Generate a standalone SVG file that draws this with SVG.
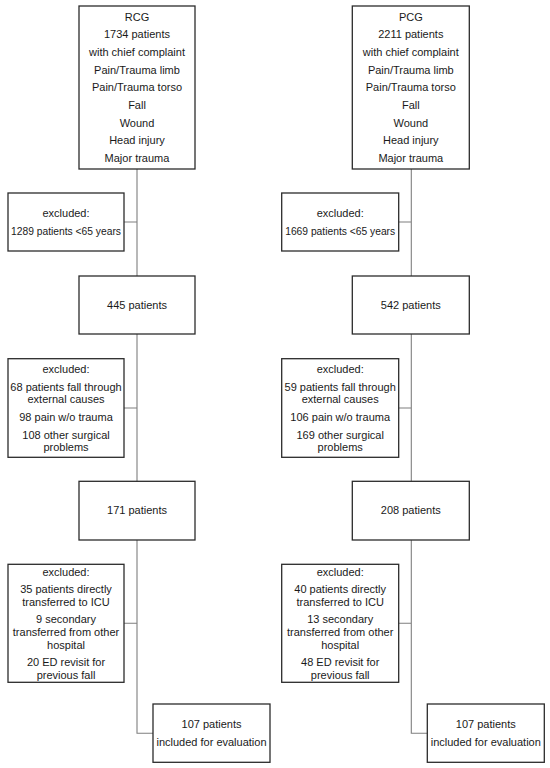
<svg xmlns="http://www.w3.org/2000/svg" width="550" height="768" viewBox="0 0 550 768">
<style>
.box{fill:#fff;stroke:#2b2b2b;stroke-width:1.3}
.ln{fill:none;stroke:#7f7f7f;stroke-width:1.1}
text{font-family:"Liberation Sans",Arial,sans-serif;font-size:11px;fill:#1a1a1a;text-anchor:middle}
</style>
<rect width="550" height="768" fill="#fff"/>
<g id="connectors">
<path class="ln" d="M137,169V733.3H153M137,222H124M137,408H124M137,623.3H124"/>
<path class="ln" d="M411.3,169V733.3H427.3M411.3,222H398.7M411.3,408H398.7M411.3,623.3H398.7"/>
</g>
<g id="rcg">
<rect class="box" x="79" y="6" width="116" height="163"/>
<text x="137" y="20.7">RCG</text>
<text x="137" y="38.3">1734 patients</text>
<text x="137" y="56.3">with chief complaint</text>
<text x="137" y="74">Pain/Trauma limb</text>
<text x="137" y="91.3">Pain/Trauma torso</text>
<text x="137" y="109">Fall</text>
<text x="137" y="126.7">Wound</text>
<text x="137" y="144.3">Head injury</text>
<text x="137" y="162">Major trauma</text>
</g>
<g id="pcg">
<rect class="box" x="352.3" y="6" width="117" height="163"/>
<text x="410.8" y="20.7">PCG</text>
<text x="410.8" y="38.3">2211 patients</text>
<text x="410.8" y="56.3">with chief complaint</text>
<text x="410.8" y="74">Pain/Trauma limb</text>
<text x="410.8" y="91.3">Pain/Trauma torso</text>
<text x="410.8" y="109">Fall</text>
<text x="410.8" y="126.7">Wound</text>
<text x="410.8" y="144.3">Head injury</text>
<text x="410.8" y="162">Major trauma</text>
</g>
<g id="rcg-excl1">
<rect class="box" x="8" y="193" width="116" height="58"/>
<text x="66" y="217.3">excluded:</text>
<text x="66" y="234.7" textLength="110" lengthAdjust="spacingAndGlyphs">1289 patients &lt;65 years</text>
</g>
<g id="pcg-excl1">
<rect class="box" x="281.7" y="193" width="117" height="58"/>
<text x="340.2" y="217.3">excluded:</text>
<text x="340.2" y="234.7" textLength="110" lengthAdjust="spacingAndGlyphs">1669 patients &lt;65 years</text>
</g>
<g id="rcg-445">
<rect class="box" x="79" y="276" width="116" height="58"/>
<text x="137" y="308.7">445 patients</text>
</g>
<g id="pcg-542">
<rect class="box" x="352.3" y="276" width="117" height="58"/>
<text x="410.8" y="308.7">542 patients</text>
</g>
<g id="rcg-excl2">
<rect class="box" x="8" y="358.7" width="116" height="98.6"/>
<text x="66" y="373">excluded:</text>
<text x="66" y="390.7">68 patients fall through</text>
<text x="66" y="402.7">external causes</text>
<text x="66" y="420.7">98 pain w/o trauma</text>
<text x="66" y="438.7">108 other surgical</text>
<text x="66" y="450.7">problems</text>
</g>
<g id="pcg-excl2">
<rect class="box" x="281.7" y="358.7" width="117" height="98.6"/>
<text x="340.2" y="373">excluded:</text>
<text x="340.2" y="390.7">59 patients fall through</text>
<text x="340.2" y="402.7">external causes</text>
<text x="340.2" y="420.7">106 pain w/o trauma</text>
<text x="340.2" y="438.7">169 other surgical</text>
<text x="340.2" y="450.7">problems</text>
</g>
<g id="rcg-171">
<rect class="box" x="79" y="481.3" width="116" height="58.7"/>
<text x="137" y="514">171 patients</text>
</g>
<g id="pcg-208">
<rect class="box" x="352.3" y="481.3" width="117" height="58.7"/>
<text x="410.8" y="514">208 patients</text>
</g>
<g id="rcg-excl3">
<rect class="box" x="8" y="564.3" width="116" height="118"/>
<text x="66" y="575.7">excluded:</text>
<text x="66" y="593.3">35 patients directly</text>
<text x="66" y="605.7">transferred to ICU</text>
<text x="66" y="623">9 secondary</text>
<text x="66" y="636">transferred from other</text>
<text x="66" y="649">hospital</text>
<text x="66" y="666.3">20 ED revisit for</text>
<text x="66" y="678.7">previous fall</text>
</g>
<g id="pcg-excl3">
<rect class="box" x="281.7" y="564.3" width="117" height="118"/>
<text x="340.2" y="575.7">excluded:</text>
<text x="340.2" y="593.3">40 patients directly</text>
<text x="340.2" y="605.7">transferred to ICU</text>
<text x="340.2" y="623">13 secondary</text>
<text x="340.2" y="636">transferred from other</text>
<text x="340.2" y="649">hospital</text>
<text x="340.2" y="666.3">48 ED revisit for</text>
<text x="340.2" y="678.7">previous fall</text>
</g>
<g id="rcg-final">
<rect class="box" x="153" y="704" width="117" height="58.3"/>
<text x="211.5" y="728.3">107 patients</text>
<text x="211.5" y="746">included for evaluation</text>
</g>
<g id="pcg-final">
<rect class="box" x="427.3" y="704" width="117" height="58.3"/>
<text x="485.8" y="728.3">107 patients</text>
<text x="485.8" y="746">included for evaluation</text>
</g>
</svg>
